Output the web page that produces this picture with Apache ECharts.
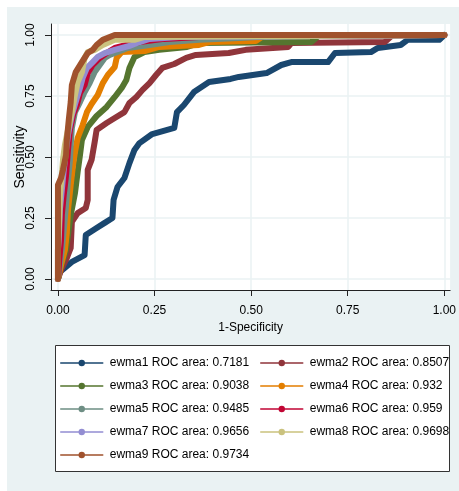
<!DOCTYPE html>
<html>
<head>
<meta charset="utf-8">
<script src="https://cdn.jsdelivr.net/npm/echarts@6/dist/echarts.min.js"></script>
<style>html,body{margin:0;padding:0;background:#fff;}#c{width:459px;height:491px;}</style>
</head>
<body>
<div id="c"></div>
<script>
const tickValues = [0, 0.25, 0.5, 0.75, 1];
const seriesNames = [
  'ewma1 ROC area: 0.7181', 'ewma2 ROC area: 0.8507', 'ewma3 ROC area: 0.9038',
  'ewma4 ROC area: 0.932', 'ewma5 ROC area: 0.9485', 'ewma6 ROC area: 0.959',
  'ewma7 ROC area: 0.9656', 'ewma8 ROC area: 0.9698', 'ewma9 ROC area: 0.9734'
];
const ewma1 = [[0,0],[0.005,0.029],[0.036,0.070],[0.069,0.098],[0.072,0.180],[0.100,0.209],[0.121,0.230],[0.141,0.250],[0.144,0.324],[0.154,0.377],[0.172,0.414],[0.185,0.475],[0.198,0.529],[0.211,0.557],[0.244,0.594],[0.301,0.619],[0.308,0.684],[0.326,0.713],[0.352,0.766],[0.391,0.807],[0.447,0.820],[0.468,0.828],[0.540,0.844],[0.578,0.877],[0.604,0.889],[0.699,0.889],[0.717,0.926],[0.810,0.930],[0.828,0.947],[0.887,0.959],[0.905,0.980],[0.987,0.980],[1,1]];
const ewma2 = [[0,0],[0.010,0.045],[0.023,0.086],[0.033,0.127],[0.036,0.234],[0.051,0.270],[0.072,0.291],[0.077,0.324],[0.077,0.447],[0.087,0.488],[0.095,0.561],[0.100,0.611],[0.126,0.639],[0.147,0.660],[0.172,0.684],[0.185,0.721],[0.203,0.746],[0.219,0.775],[0.237,0.803],[0.254,0.836],[0.270,0.865],[0.301,0.881],[0.332,0.906],[0.357,0.918],[0.442,0.926],[0.486,0.939],[0.596,0.951],[0.604,0.967],[0.846,0.971],[0.866,1],[1,1]];
const ewma3 = [[0,0],[0.005,0.037],[0.021,0.119],[0.026,0.180],[0.033,0.262],[0.044,0.352],[0.051,0.439],[0.057,0.508],[0.062,0.570],[0.077,0.623],[0.100,0.668],[0.126,0.705],[0.147,0.746],[0.165,0.783],[0.177,0.816],[0.185,0.865],[0.198,0.910],[0.224,0.930],[0.262,0.939],[0.334,0.951],[0.365,0.967],[0.656,0.971],[0.674,0.996],[1,1]];
const ewma4 = [[0,0],[0.008,0.057],[0.018,0.119],[0.023,0.189],[0.026,0.283],[0.033,0.385],[0.039,0.467],[0.044,0.520],[0.051,0.578],[0.064,0.631],[0.075,0.684],[0.087,0.717],[0.103,0.754],[0.116,0.803],[0.129,0.836],[0.147,0.869],[0.152,0.906],[0.165,0.930],[0.224,0.934],[0.262,0.951],[0.365,0.959],[0.391,0.971],[0.512,0.975],[0.532,0.996],[1,1]];
const ewma5 = [[0,0],[0.005,0.057],[0.010,0.119],[0.015,0.201],[0.021,0.303],[0.026,0.406],[0.031,0.488],[0.033,0.549],[0.036,0.619],[0.044,0.684],[0.057,0.725],[0.069,0.766],[0.082,0.803],[0.095,0.848],[0.108,0.877],[0.121,0.906],[0.134,0.918],[0.154,0.930],[0.180,0.947],[0.237,0.959],[0.288,0.971],[0.365,0.980],[0.468,0.988],[0.571,0.996],[1,1]];
const ewma6 = [[0,0],[0.003,0.070],[0.008,0.160],[0.010,0.262],[0.015,0.344],[0.021,0.426],[0.026,0.529],[0.031,0.611],[0.039,0.672],[0.049,0.713],[0.057,0.762],[0.069,0.795],[0.077,0.844],[0.090,0.877],[0.108,0.906],[0.126,0.926],[0.147,0.947],[0.177,0.959],[0.211,0.971],[0.275,0.984],[0.365,0.992],[0.442,0.996],[1,1]];
const ewma7 = [[0,0],[0,0.119],[0.003,0.201],[0.005,0.283],[0.010,0.365],[0.015,0.447],[0.021,0.529],[0.026,0.590],[0.036,0.672],[0.049,0.742],[0.057,0.783],[0.064,0.824],[0.075,0.865],[0.090,0.889],[0.103,0.910],[0.121,0.926],[0.147,0.939],[0.185,0.955],[0.211,0.971],[0.237,0.984],[0.314,0.992],[1,1]];
const ewma8 = [[0,0],[0,0.119],[0.003,0.242],[0.005,0.344],[0.010,0.426],[0.013,0.488],[0.018,0.549],[0.026,0.611],[0.036,0.684],[0.044,0.754],[0.051,0.807],[0.062,0.848],[0.069,0.906],[0.077,0.930],[0.095,0.939],[0.116,0.959],[0.147,0.980],[0.198,0.980],[0.224,0.992],[1,1]];
const ewma9 = [[0,0],[0,0.119],[0,0.262],[0,0.385],[0.008,0.414],[0.013,0.447],[0.021,0.508],[0.023,0.570],[0.028,0.652],[0.033,0.725],[0.036,0.795],[0.046,0.848],[0.062,0.889],[0.077,0.926],[0.090,0.939],[0.100,0.959],[0.116,0.980],[0.147,1],[1,1]];

const allData = [ewma1, ewma2, ewma3, ewma4, ewma5, ewma6, ewma7, ewma8, ewma9];
const colors = ['#1A476F','#90353B','#55752F','#E37E00','#6E8E84','#C10534','#938DD2','#CAC27E','#A0522D'];
const FONT = '"Liberation Sans", Arial, sans-serif';

const chart = echarts.init(document.getElementById('c'), null, {renderer: 'canvas'});

const series = allData.map((d, i) => ({
  name: seriesNames[i],
  type: 'line',
  data: d,
  symbol: 'circle',
  showSymbol: false,
  color: colors[i],
  lineStyle: {width: 6, cap: 'round', join: 'round', color: colors[i]},
  itemStyle: {color: colors[i]},
  z: 2 + i
}));

const legendCommon = {
  orient: 'vertical',
  padding: 0,
  itemWidth: 42,
  itemHeight: 8,
  itemGap: 7,
  lineStyle: {width: 1.5},
  textStyle: {fontFamily: FONT, fontSize: 12, color: '#000', lineHeight: 16, padding: [0,0,0,2]},
  selectedMode: false
};

chart.setOption({
  animation: false,
  backgroundColor: '#fff',
  graphic: [
    {type: 'rect', z: -10, shape: {x: 7, y: 7, width: 452, height: 484}, style: {fill: '#EAF2F3'}},
    {type: 'rect', z: 1, shape: {x: 55.5, y: 345.5, width: 394, height: 126}, style: {fill: '#fff', stroke: '#333', lineWidth: 1}}
  ],
  grid: {left: 51, right: 6, top: 24, bottom: 201, show: true, backgroundColor: '#fff', borderWidth: 0},
  xAxis: {
    type: 'value', min: -0.018, max: 1.015,
    name: '1-Specificity', nameLocation: 'middle', nameGap: 32, nameMoveOverlap: false,
    nameTextStyle: {fontFamily: FONT, fontSize: 12, color: '#000'},
    axisLine: {show: true, onZero: false, lineStyle: {color: '#222', width: 1}},
    axisTick: {show: true, length: 6, customValues: tickValues, lineStyle: {color: '#222'}},
    axisLabel: {customValues: tickValues, margin: 15, fontFamily: FONT, fontSize: 12, color: '#000',
      formatter: v => v.toFixed(2)},
    splitLine: {show: true, lineStyle: {color: '#EAF2F3', width: 1.5}}
  },
  yAxis: {
    type: 'value', min: -0.045, max: 1.045,
    name: 'Sensitivity', nameLocation: 'middle', nameGap: 24, nameMoveOverlap: false,
    nameTextStyle: {fontFamily: FONT, fontSize: 14, color: '#000'},
    axisLine: {show: true, onZero: false, lineStyle: {color: '#222', width: 1}},
    axisTick: {show: true, length: 6, customValues: tickValues, lineStyle: {color: '#222'}},
    axisLabel: {customValues: tickValues, rotate: 90, margin: 14, fontFamily: FONT, fontSize: 12, color: '#000',
      formatter: v => v.toFixed(2)},
    splitLine: {show: true, lineStyle: {color: '#EAF2F3', width: 1.5}}
  },
  legend: [
    Object.assign({}, legendCommon, {left: 60, top: 355, data: [seriesNames[0], seriesNames[2], seriesNames[4], seriesNames[6], seriesNames[8]]}),
    Object.assign({}, legendCommon, {left: 260, top: 355, data: [seriesNames[1], seriesNames[3], seriesNames[5], seriesNames[7]]})
  ],
  series: series
});
</script>
</body>
</html>
